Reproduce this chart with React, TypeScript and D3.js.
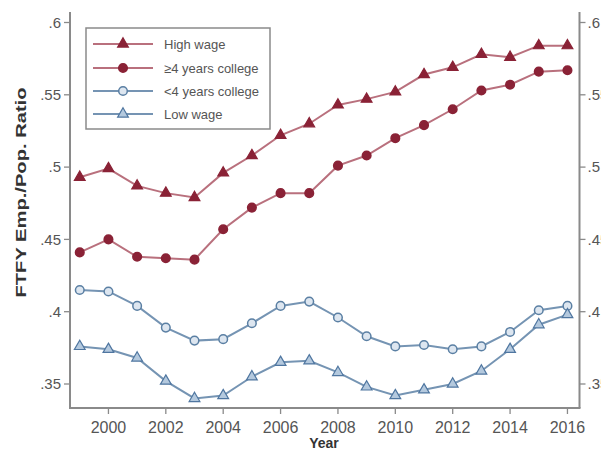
import React from "react";
import * as d3 from "d3";

// Full-time full-year employment-to-population ratios, 1999–2016
const years = d3.range(1999, 2017);
const highWage = [0.493, 0.499, 0.487, 0.482, 0.479, 0.496, 0.508, 0.522, 0.530, 0.543, 0.547, 0.552, 0.564, 0.569, 0.578, 0.576, 0.584, 0.584];
const collegePlus = [0.441, 0.450, 0.438, 0.437, 0.436, 0.457, 0.472, 0.482, 0.482, 0.501, 0.508, 0.520, 0.529, 0.540, 0.553, 0.557, 0.566, 0.567];
const collegeLess = [0.415, 0.414, 0.404, 0.389, 0.380, 0.381, 0.392, 0.404, 0.407, 0.396, 0.383, 0.376, 0.377, 0.374, 0.376, 0.386, 0.401, 0.404];
const lowWage = [0.376, 0.374, 0.368, 0.352, 0.340, 0.342, 0.355, 0.365, 0.366, 0.358, 0.348, 0.342, 0.346, 0.350, 0.359, 0.374, 0.391, 0.398];

const yTicks = [0.35, 0.4, 0.45, 0.5, 0.55, 0.6];
const xTicks = [2000, 2002, 2004, 2006, 2008, 2010, 2012, 2014, 2016];

const seriesNames = ["High wage", "\u22654 years college", "<4 years college", "Low wage"];

type Style = { line: string; stroke: string; fill: string; shape: "tri" | "circle" };
const styles: Style[] = [
  { line: "#b9707d", stroke: "#8a2236", fill: "#8a2236", shape: "tri" },
  { line: "#b9707d", stroke: "#8a2236", fill: "#8a2236", shape: "circle" },
  { line: "#7594b3", stroke: "#5a7fa3", fill: "#dde6f0", shape: "circle" },
  { line: "#7594b3", stroke: "#4f76a0", fill: "#b4c9de", shape: "tri" },
];

const W = 601;
const H = 450;
const left = 70;
const right = 579.5;
const bottom = 408;
const top = 12;

const fmt = (v: number) => d3.format(".2~f")(v).replace(/^0/, "");

function Marker({ x, y, s }: { x: number; y: number; s: Style }) {
  if (s.shape === "circle") {
    return <circle cx={x} cy={y} r={4.3} fill={s.fill} stroke={s.stroke} strokeWidth={1.5} />;
  }
  const sym = d3.symbol(d3.symbolTriangle, 50)() as string;
  return <path d={sym} transform={`translate(${x},${y})`} fill={s.fill} stroke={s.stroke} strokeWidth={1.2} />;
}

export default function App() {
  const x = d3.scaleLinear().domain([1998.66, 2016.42]).range([left, right]);
  const y = d3.scaleLinear().domain([0.35, 0.6]).range([384, 22.5]);
  const all = [highWage, collegePlus, collegeLess, lowWage];
  const line = d3
    .line<number>()
    .x((_, i) => x(years[i]))
    .y((d) => y(d));

  const axisColor = "#8a8a8a";
  const labelColor = "#555";
  const font = "Arial, 'Liberation Sans', sans-serif";

  const legX = 86;
  const legY = 28;
  const legRows = [44, 68, 91, 114];

  return (
    <svg width={W} height={H} style={{ position: "absolute", left: 0, top: 0, background: "#fff" }} fontFamily={font}>
      <rect width={W} height={H} fill="#fff" />

      {/* data lines */}
      {all.map((vals, k) => (
        <path key={`l${k}`} d={line(vals) as string} fill="none" stroke={styles[k].line} strokeWidth={2} />
      ))}
      {all.map((vals, k) =>
        vals.map((v, i) => <Marker key={`m${k}-${i}`} x={x(years[i])} y={y(v)} s={styles[k]} />)
      )}

      {/* axes */}
      <line x1={left} x2={left} y1={top} y2={bottom} stroke={axisColor} strokeWidth={2} />
      <line x1={right} x2={right} y1={top} y2={bottom} stroke={axisColor} strokeWidth={2} />
      <line x1={left - 1} x2={right + 1} y1={bottom} y2={bottom} stroke={axisColor} strokeWidth={2} />

      {yTicks.map((t) => (
        <g key={`yt${t}`}>
          <line x1={left - 6} x2={left} y1={y(t)} y2={y(t)} stroke={axisColor} strokeWidth={1.3} />
          <text x={left - 9} y={y(t)} dy="0.35em" textAnchor="end" fontSize={15} fill={labelColor}>
            {fmt(t)}
          </text>
          <line x1={right} x2={right + 6} y1={y(t)} y2={y(t)} stroke={axisColor} strokeWidth={1.3} />
          <text x={right + 8} y={y(t)} dy="0.35em" textAnchor="start" fontSize={15} fill={labelColor}>
            {fmt(t)}
          </text>
        </g>
      ))}

      {xTicks.map((t) => (
        <g key={`xt${t}`}>
          <line x1={x(t)} x2={x(t)} y1={bottom} y2={bottom + 6} stroke={axisColor} strokeWidth={1.3} />
          <text x={x(t)} y={433} textAnchor="middle" fontSize={16} fill={labelColor}>
            {t}
          </text>
        </g>
      ))}

      {/* axis titles */}
      <text x={324} y={448} textAnchor="middle" fontSize={14} fontWeight="bold" fill="#333">
        Year
      </text>
      <text
        transform={`translate(26,${(87 + 298) / 2}) rotate(-90)`}
        textAnchor="middle"
        fontSize={14.5}
        fontWeight="bold"
        fill="#333"
        textLength={210}
        lengthAdjust="spacingAndGlyphs"
      >
        FTFY Emp./Pop. Ratio
      </text>

      {/* legend */}
      <rect x={legX} y={legY} width={184} height={101} fill="#fff" stroke={axisColor} strokeWidth={1.5} />
      {seriesNames.map((name, k) => (
        <g key={`lg${k}`}>
          <line x1={93} x2={153} y1={legRows[k]} y2={legRows[k]} stroke={styles[k].line} strokeWidth={2} />
          <Marker x={123} y={legRows[k]} s={styles[k]} />
          <text x={164} y={legRows[k]} dy="0.35em" fontSize={13} fill={labelColor}>
            {name}
          </text>
        </g>
      ))}
    </svg>
  );
}
